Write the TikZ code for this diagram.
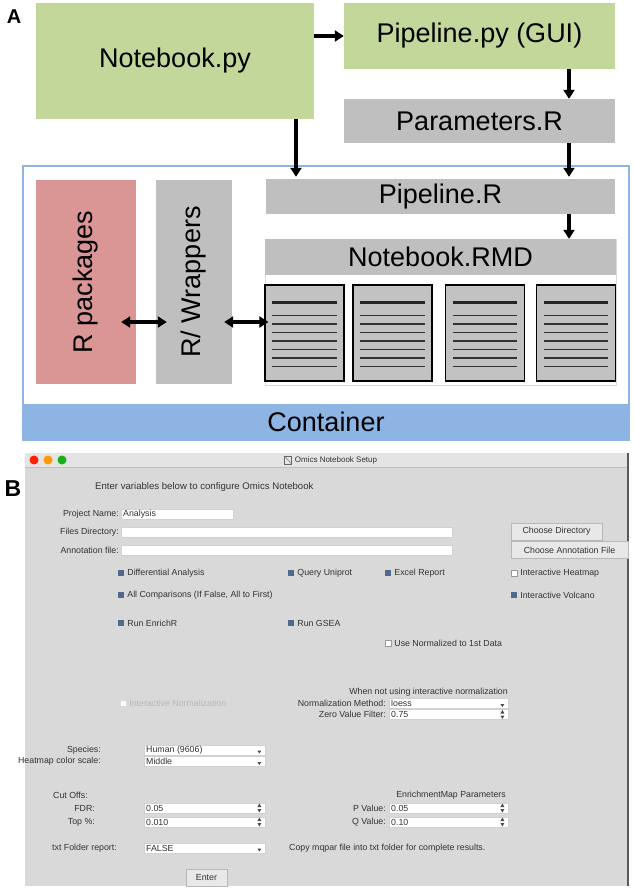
\documentclass[tikz,border=0pt]{standalone}
\usepackage{fontspec}
\setmainfont{Liberation Sans}
\usetikzlibrary{arrows.meta,positioning,calc}

\definecolor{nbgreen}{HTML}{C4D79B}
\definecolor{boxgray}{HTML}{BFBFBF}
\definecolor{pkgred}{HTML}{D99694}
\definecolor{cblue}{HTML}{8DB4E2}
\definecolor{docgray}{HTML}{C2C2C2}
\definecolor{winbg}{HTML}{D9D9D9}
\definecolor{titlebg}{HTML}{E4E4E4}
\definecolor{guitext}{HTML}{333333}
\definecolor{chkblue}{HTML}{4F6A8A}

\tikzset{
  box/.style={inner sep=0, font=\fontsize{27}{30}\selectfont},
  arr/.style={line width=3.5pt, -{Triangle[length=9pt,width=11pt]}},
  darr/.style={line width=3.5pt, {Triangle[length=9pt,width=11pt]}-{Triangle[length=9pt,width=11pt]}},
  doc/.style={draw=black, line width=1.2pt, fill=docgray, minimum width=79, minimum height=96, inner sep=0},
  gui/.style={font=\fontsize{8.8}{10}\selectfont, text=guitext, inner sep=0},
  lbl/.style={gui, anchor=east},
  txt/.style={gui, anchor=west},
  entry/.style={draw=black!18, fill=white, inner sep=0, minimum height=10, anchor=west},
  button/.style={draw=black!28, fill=black!9, gui, minimum height=17},
  chk/.style={fill=chkblue, minimum size=6, inner sep=0},
  unchk/.style={draw=black!40, fill=white, minimum size=6, inner sep=0},
  spinner/.pic={\fill[black!70] (-2,-1)--(2,-1)--(0,-4.5)--cycle;
                \fill[black!70] (-2,1)--(2,1)--(0,4.5)--cycle;},
  dropdown/.pic={\fill[black!70] (-2,0.5)--(2,0.5)--(0,3.5)--cycle;}
}

\begin{document}
\begin{tikzpicture}[x=1pt,y=-1pt]
  \useasboundingbox (0,0) rectangle (633,889);

  % panel A
  \node[font=\fontsize{20}{22}\selectfont\bfseries, inner sep=0] (labA) at (14,17) {A};
  \node[draw=cblue, line width=1.5pt, minimum width=606, minimum height=274, inner sep=0] (cbox) at (326,303) {};
  \node[box, fill=cblue, minimum width=606, minimum height=36] (container) at (326,422) {Container};

  \node[box, fill=nbgreen, minimum width=278, minimum height=116] (nbpy) at (175,61) {Notebook.py};
  \node[box, fill=nbgreen, minimum width=271, minimum height=66] (pipepy) at (479.5,36) {Pipeline.py (GUI)};
  \node[box, fill=boxgray, minimum width=271, minimum height=44] (params) at (479.5,121) {Parameters.R};
  \node[box, fill=boxgray, minimum width=349, minimum height=35] (piper) at (440.5,196.5) {Pipeline.R};

  \node[draw=black!15, fill=white, minimum width=351, minimum height=146, inner sep=0] (rmdbox) at (440.5,312) {};
  \node[box, fill=boxgray, minimum width=351, minimum height=36] (rmd) at (440.5,257) {Notebook.RMD};

  \node[box, fill=pkgred, minimum width=204, minimum height=100, rotate=90] (rpkg) at (86,282) {R packages};
  \node[box, fill=boxgray, minimum width=204, minimum height=76, rotate=90] (rwrap) at (194,282) {R/ Wrappers};

  \foreach \i/\x in {1/304.5,2/392.5,3/485,4/576}{
    \node[doc] (d\i) at (\x,333) {};
    \draw[black!85, line width=2.3pt] ($(d\i.north west)+(8,18)$) -- ($(d\i.north east)+(-8,18)$);
    \foreach \dy in {31,39.5,48,56.5,65,73.5,82}
      \draw[black!80, line width=1.4pt] ($(d\i.north west)+(8,\dy)$) -- ($(d\i.north east)+(-8,\dy)$);
  }

  \coordinate (colR) at (569,0);
  \coordinate (colL) at (296,0);
  \coordinate (rowar) at (0,322);
  \draw[arr] (nbpy.east |- pipepy.west) -- (pipepy.west);
  \draw[arr] (pipepy.south -| colR) -- (params.north -| colR);
  \draw[arr] (params.south -| colR) -- ($(piper.north -| colR)+(0,-2)$);
  \draw[arr] (nbpy.south -| colL) -- ($(piper.north -| colL)+(0,-2)$);
  \draw[arr] (piper.south -| colR) -- (rmd.north -| colR);
  \draw[darr] ($(rpkg.south |- rowar)+(-15,0)$) -- ($(rwrap.north |- rowar)+(11,0)$);
  \draw[darr] ($(rwrap.south |- rowar)+(-8,0)$) -- ($(d1.west |- rowar)+(4,0)$);

  % panel B
  \node[fill=winbg, minimum width=603, minimum height=433, inner sep=0] (win) at (326.5,669.5) {};
  \node[fill=titlebg, minimum width=603, minimum height=14, inner sep=0] (titlebar) at (326.5,460) {};
  \draw[black!25] (titlebar.south west) -- (titlebar.south east);
  \draw[black!65, line width=1.5pt] (win.north east) -- (win.south east);
  \fill[red!75!orange] (34,460) circle (4.5);
  \fill[orange!80!yellow] (48,460) circle (4.5);
  \fill[green!65!black!90] (62,460) circle (4.5);
  \node[gui, font=\fontsize{8}{9}\selectfont] (title) at (336,460) {Omics Notebook Setup};
  \node[draw=black!60, minimum width=7, minimum height=8, inner sep=0, left=3pt of title] (xicon) {};
  \draw[black!60] (xicon.north west) -- (xicon.south east);

  \node[font=\fontsize{23}{25}\selectfont\bfseries, inner sep=0] (labB) at (13,489) {B};
  \node[txt, font=\fontsize{9.6}{11}\selectfont] (head) at (95,487) {Enter variables below to configure Omics Notebook};

  \node[lbl] (lproj) at (119,514) {Project Name:};
  \node[entry, minimum width=112] (eproj) at (121,514) {};
  \node[txt] (vproj) at ([xshift=2pt]eproj.west) {Analysis};
  \node[lbl] (lfdir) at (119,532) {Files Directory:};
  \node[entry, minimum width=331] (efdir) at (121,532) {};
  \node[lbl] (lanno) at (119,550) {Annotation file:};
  \node[entry, minimum width=331] (eanno) at (121,550) {};
  \node[button, minimum width=91] (bdir) at (556.5,531.5) {Choose Directory};
  \node[button, minimum width=117] (banno) at (569.5,550) {Choose Annotation File};

  \foreach \x/\y/\t [count=\i] in {121/573/Differential Analysis, 291/573/Query Uniprot,
      388/573/Excel Report, 121/595/{All Comparisons (If False, All to First)},
      514/595/Interactive Volcano, 121/623/Run EnrichR, 291/623/Run GSEA}{
    \node[chk] (c\i) at (\x,\y) {};
    \node[txt] (ct\i) at ([xshift=3pt]c\i.east) {\t};
  }
  \node[unchk] (u1) at (514,573) {};
  \node[txt] (ut1) at ([xshift=3pt]u1.east) {Interactive Heatmap};
  \node[unchk] (u2) at (388,643) {};
  \node[txt] (ut2) at ([xshift=3pt]u2.east) {Use Normalized to 1st Data};
  \node[unchk, draw=black!15] (u3) at (123,703) {};
  \node[txt, text=black!28] (ut3) at ([xshift=3pt]u3.east) {Interactive Normalization};

  \node[lbl] (lnote) at (508,692) {When not using interactive normalization};
  \node[lbl] (lnorm) at (386,703) {Normalization Method:};
  \node[entry, minimum width=119] (enorm) at (389,703.5) {};
  \node[txt] (vnorm) at ([xshift=2pt]enorm.west) {loess};
  \pic at ([xshift=-6pt]enorm.east) {dropdown};
  \node[lbl] (lzero) at (386,714.5) {Zero Value Filter:};
  \node[entry, minimum width=119] (ezero) at (389,714.5) {};
  \node[txt] (vzero) at ([xshift=2pt]ezero.west) {0.75};
  \pic at ([xshift=-6pt]ezero.east) {spinner};

  \node[lbl] (lspec) at (101,750) {Species:};
  \node[entry, minimum width=121] (espec) at (144,750) {};
  \node[txt] (vspec) at ([xshift=2pt]espec.west) {Human (9606)};
  \pic at ([xshift=-6pt]espec.east) {dropdown};
  \node[lbl] (lheat) at (101,761.5) {Heatmap color scale:};
  \node[entry, minimum width=121] (eheat) at (144,761.5) {};
  \node[txt] (vheat) at ([xshift=2pt]eheat.west) {Middle};
  \pic at ([xshift=-6pt]eheat.east) {dropdown};

  \node[txt] (lcut) at (53,795) {Cut Offs:};
  \node[lbl] (lemap) at (506,795) {EnrichmentMap Parameters};
  \node[lbl] (lfdr) at (95,808) {FDR:};
  \node[entry, minimum width=121] (efdr) at (144,808) {};
  \node[txt] (vfdr) at ([xshift=2pt]efdr.west) {0.05};
  \pic at ([xshift=-6pt]efdr.east) {spinner};
  \node[lbl] (ltop) at (95,822) {Top \%:};
  \node[entry, minimum width=121] (etop) at (144,822) {};
  \node[txt] (vtop) at ([xshift=2pt]etop.west) {0.010};
  \pic at ([xshift=-6pt]etop.east) {spinner};
  \node[lbl] (lpval) at (386,808) {P Value:};
  \node[entry, minimum width=119] (epval) at (389,808) {};
  \node[txt] (vpval) at ([xshift=2pt]epval.west) {0.05};
  \pic at ([xshift=-6pt]epval.east) {spinner};
  \node[lbl] (lqval) at (386,822) {Q Value:};
  \node[entry, minimum width=119] (eqval) at (389,822) {};
  \node[txt] (vqval) at ([xshift=2pt]eqval.west) {0.10};
  \pic at ([xshift=-6pt]eqval.east) {spinner};

  \node[lbl] (ltxt) at (117,848) {txt Folder report:};
  \node[entry, minimum width=121] (etxt) at (144,848) {};
  \node[txt] (vtxt) at ([xshift=2pt]etxt.west) {FALSE};
  \pic at ([xshift=-6pt]etxt.east) {dropdown};
  \node[txt] (lcopy) at (289,848) {Copy mqpar file into txt folder for complete results.};
  \node[button, minimum width=41] (benter) at (206.5,877.5) {Enter};
\end{tikzpicture}
\end{document}
